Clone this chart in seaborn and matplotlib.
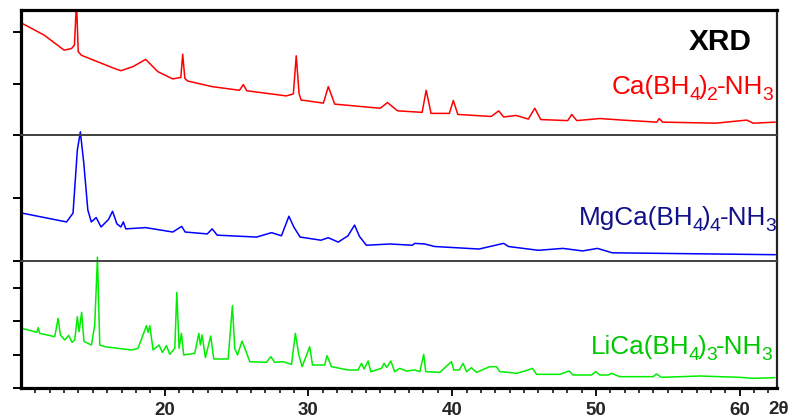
import matplotlib
matplotlib.use("Agg")
import matplotlib.pyplot as plt
import seaborn as sns
import pandas as pd

# ---- data (2theta, intensity in panel units) ----
ca_x = [10.08, 11.62, 13.0, 13.51, 13.72, 13.86, 13.98, 14.2, 16.44, 16.95, 17.8, 18.67, 19.53, 20.56,
        21.12, 21.25, 21.4, 21.59, 23.3, 25.2, 25.47, 25.71, 28.46, 28.95, 29.15, 29.35, 29.49, 31.04,
        31.38, 31.83, 34.99, 35.5, 36.2, 37.91, 38.19, 38.53, 39.8, 40.08, 40.39, 42.72, 43.24, 43.58,
        44.44, 45.3, 45.75, 46.16, 48.04, 48.32, 48.67, 50.28, 51.83, 54.24, 54.4, 54.65, 58.36, 60.5,
        60.94, 62.48]
ca_y = [2.17, 1.94, 1.65, 1.68, 1.75, 2.6, 1.62, 1.55, 1.30, 1.25, 1.33, 1.47, 1.23, 1.09,
        1.12, 1.57, 1.10, 1.05, 0.94, 0.87, 0.98, 0.86, 0.76, 0.80, 1.54, 0.80, 0.68, 0.62,
        0.94, 0.60, 0.52, 0.63, 0.47, 0.44, 0.87, 0.42, 0.42, 0.67, 0.40, 0.36, 0.47, 0.35,
        0.38, 0.31, 0.52, 0.30, 0.28, 0.40, 0.28, 0.32, 0.29, 0.25, 0.32, 0.25, 0.23, 0.29,
        0.23, 0.25]

mg_x = [10.08, 11.62, 13.17, 13.62, 13.92, 14.13, 14.37, 14.65, 14.89, 15.23, 15.57, 16.09, 16.37,
        16.67, 16.95, 17.12, 17.29, 18.67, 20.56, 21.18, 21.42, 22.96, 23.3, 23.65, 26.4, 27.43,
        28.12, 28.64, 28.98, 29.42, 30.87, 31.38, 32.07, 32.75, 33.21, 33.55, 34.03, 35.68, 37.22,
        37.4, 38.09, 38.78, 41.87, 43.58, 43.92, 45.99, 47.7, 49.08, 50.11, 51.14, 54.93, 62.48]
mg_y = [0.76, 0.69, 0.62, 0.76, 1.76, 2.05, 1.55, 0.81, 0.62, 0.69, 0.54, 0.66, 0.79,
        0.59, 0.54, 0.62, 0.51, 0.53, 0.46, 0.55, 0.46, 0.43, 0.51, 0.41, 0.38, 0.45,
        0.40, 0.71, 0.54, 0.38, 0.33, 0.37, 0.30, 0.40, 0.57, 0.39, 0.25, 0.27, 0.25,
        0.28, 0.27, 0.23, 0.19, 0.28, 0.23, 0.17, 0.20, 0.16, 0.20, 0.13, 0.12, 0.10]

li_x = [10.07, 11.1, 11.2, 11.3, 12.35, 12.58, 12.74, 13.04, 13.32, 13.55, 13.74, 13.92, 14.04, 14.22,
        14.38, 14.9, 15.13, 15.32, 15.48, 15.82, 17.68, 18.14, 18.73, 18.84, 18.96, 19.19, 19.6, 19.84,
        20.12, 20.35, 20.7, 20.84, 21.0, 21.16, 21.32, 22.09, 22.37, 22.48, 22.6, 22.83, 23.2, 23.41,
        24.41, 24.71, 24.87, 25.06, 25.38, 25.92, 27.08, 27.38, 27.65, 28.23, 28.82, 29.09, 29.33,
        29.56, 30.09, 30.28, 31.13, 31.29, 31.6, 32.76, 33.45, 33.69, 33.87, 34.15, 34.34, 35.08,
        35.26, 35.45, 35.73, 36.0, 36.35, 36.82, 37.4, 37.75, 38.02, 38.16, 39.14, 39.95, 40.11,
        40.5, 40.76, 41.0, 41.34, 41.69, 42.62, 43.08, 43.31, 43.89, 44.48, 45.28, 45.59, 45.87,
        47.49, 48.14, 48.41, 49.69, 49.99, 50.27, 50.85, 51.08, 51.66, 53.98, 54.21, 54.56, 57.23,
        60.01, 60.94, 62.45]
li_y = [1.79, 1.67, 1.81, 1.64, 1.54, 2.09, 1.59, 1.44, 1.58, 1.37, 1.44, 2.14, 1.69, 2.27,
        1.40, 1.29, 1.89, 3.93, 1.29, 1.24, 1.14, 1.19, 1.87, 1.67, 1.87, 1.14, 1.29, 1.07,
        1.27, 1.01, 1.19, 2.87, 1.19, 1.64, 0.99, 1.04, 1.64, 1.29, 1.59, 0.91, 1.56, 0.87,
        0.87, 2.47, 1.19, 0.99, 1.41, 0.79, 0.77, 0.94, 0.77, 0.79, 0.71, 1.64, 0.99,
        0.64, 1.24, 0.69, 0.69, 0.97, 0.64, 0.54, 0.54, 0.74, 0.57, 0.81, 0.49, 0.59,
        0.74, 0.62, 0.81, 0.49, 0.59, 0.51, 0.54, 0.49, 1.01, 0.49, 0.47, 0.79, 0.54,
        0.54, 0.74, 0.49, 0.61, 0.47, 0.64, 0.64, 0.49, 0.47, 0.44, 0.54, 0.59, 0.41,
        0.41, 0.51, 0.39, 0.39, 0.49, 0.39, 0.39, 0.44, 0.34, 0.34, 0.42, 0.32, 0.36,
        0.32, 0.29, 0.31]

# label pieces: (text, is_subscript)
label_ca = [("Ca(BH", 0), ("4", 1), (")", 0), ("2", 1), ("-NH", 0), ("3", 1)]
label_mg = [("MgCa(BH", 0), ("4", 1), (")", 0), ("4", 1), ("-NH", 0), ("3", 1)]
label_li = [("LiCa(BH", 0), ("4", 1), (")", 0), ("3", 1), ("-NH", 0), ("3", 1)]
x_major = [20, 30, 40, 50, 60]
x_minor = list(range(11, 63))

sns.set_style("white")
plt.rcParams['font.family'] = ['Liberation Sans', 'DejaVu Sans']

fig = plt.figure(figsize=(7.92, 4.18), dpi=100)
L, R = 21 / 792, 777 / 792
def fy(p):
    return (418 - p) / 418
ax_top = fig.add_axes([L, fy(135), R - L, fy(10) - fy(135)])
ax_mid = fig.add_axes([L, fy(261), R - L, fy(135) - fy(261)])
ax_bot = fig.add_axes([L, fy(388), R - L, fy(261) - fy(388)])

panels = [
    (ax_top, ca_x, ca_y, "#ff0000", 2.43, [1, 2], label_ca, "#ff0000", 62.24, 0.80, 18.8, True),
    (ax_mid, mg_x, mg_y, "#0000ff", 2.0, [0, 1, 2], label_mg, "#10108a", 62.45, 0.57, 18.8, False),
    (ax_bot, li_x, li_y, "#00ee00", 3.81, [0, 1, 2, 3], label_li, "#00c800", 62.17, 1.02, 18.8, False),
]

for ax, xs, ys, col, ymax, yt, lab, tcol, tx, ty, fs, clip in panels:
    df = pd.DataFrame({"two_theta": xs, "intensity": ys})
    sns.lineplot(data=df, x="two_theta", y="intensity", ax=ax, color=col,
                 linewidth=1.1, estimator=None, sort=False)
    for ln in ax.get_lines():
        ln.set_clip_on(clip)
    ax.set_xlim(10, 62.6)
    ax.set_ylim(0, ymax)
    ax.set_yticks(yt)
    ax.set_yticklabels([])
    ax.set_xlabel("")
    ax.set_ylabel("")
    ax.patch.set_alpha(0)
    ax.tick_params(axis='y', which='major', direction='out', length=5.5, width=1.4,
                   color='black', left=True, labelleft=False)
    for s in ax.spines.values():
        s.set_visible(True)
    ax.spines['left'].set_linewidth(2.3)
    ax.spines['left'].set_color('black')
    ax.spines['right'].set_linewidth(1.6)
    ax.spines['right'].set_color('#222222')
    ax.spines['top'].set_linewidth(1.3)
    ax.spines['top'].set_color('#444444')
    ax.spines['bottom'].set_linewidth(1.3)
    ax.spines['bottom'].set_color('#444444')

ax_top.spines['top'].set_linewidth(2.3)
ax_top.spines['top'].set_color('black')
ax_bot.spines['bottom'].set_linewidth(2.3)
ax_bot.spines['bottom'].set_color('black')
ax_mid.set_zorder(3)
ax_bot.set_zorder(2)
ax_top.set_zorder(1)

for ax in (ax_top, ax_mid):
    ax.set_xticks([])
    ax.tick_params(axis='x', which='both', bottom=False, labelbottom=False)

ax_bot.set_xticks(x_major)
ax_bot.set_xticks(x_minor, minor=True)
ax_bot.set_xticklabels([str(v) for v in x_major])
ax_bot.tick_params(axis='x', which='major', direction='out', length=6, width=1.3,
                   color='black', bottom=True, pad=4)
ax_bot.tick_params(axis='x', which='minor', direction='out', length=3.5, width=1.1,
                   color='black', bottom=True)
for t in ax_bot.get_xticklabels():
    t.set_fontsize(13.5)
    t.set_fontweight('bold')

ax_top.text(60.85, 1.65, "XRD", fontsize=21.5, fontweight='bold', color='black',
            ha='right', va='baseline')
fig.text(779 / 792, fy(401), "2θ", fontsize=13.5, fontweight='bold', ha='center', va='top')

# chemical-formula labels with real subscripts, right-aligned at (tx, ty)
fig.canvas.draw()
renderer = fig.canvas.get_renderer()
W, H = fig.bbox.width, fig.bbox.height
for ax, xs, ys, col, ymax, yt, lab, tcol, tx, ty, fs, clip in panels:
    sub_fs = fs * 0.74
    drop = fs * 0.33
    x0, y0 = ax.transData.transform((tx, ty))
    widths = []
    for s, sub in lab:
        tmp = fig.text(0, 0, s, fontsize=sub_fs if sub else fs)
        widths.append(tmp.get_window_extent(renderer).width - 1.0)
        tmp.remove()
    x = x0 - sum(widths)
    for (s, sub), w in zip(lab, widths):
        y = y0 - (drop if sub else 0)
        fig.text(x / W, y / H, s, fontsize=sub_fs if sub else fs,
                 color=tcol, ha='left', va='baseline', zorder=5)
        x += w

fig.savefig("out.png", dpi=100)
